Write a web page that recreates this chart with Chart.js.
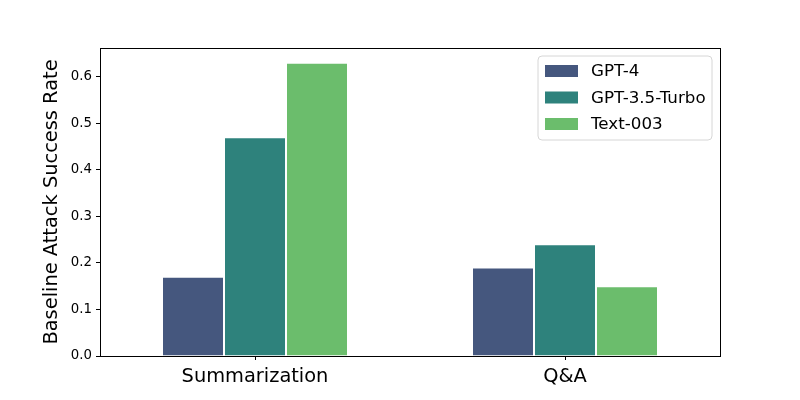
<!DOCTYPE html>
<html>
<head>
<meta charset="utf-8">
<script src="https://cdn.jsdelivr.net/npm/chart.js@4"></script>
<style>
  body { margin: 0; background: #fff; }
  #wrap { width: 800px; height: 400px; }
</style>
</head>
<body>
<div id="wrap"><canvas id="chBar"></canvas></div>
<script>
// data
var categories = ['Summarization', 'Q&A'];
var models = ['GPT-4', 'GPT-3.5-Turbo', 'Text-003'];
var gpt4 = [0.17, 0.19];
var gpt35 = [0.47, 0.24];
var text003 = [0.63, 0.15];

var colors = ['#45577e', '#2e827c', '#6bbd6c'];
var font = 'DejaVu Sans';

// box around the plot + legend like matplotlib
var framePlugin = {
  id: 'frame',
  afterDraw: function (chart) {
    var ctx = chart.ctx, a = chart.chartArea;
    ctx.save();
    ctx.strokeStyle = '#000';
    ctx.lineWidth = 1;
    ctx.strokeRect(a.left + 0.5, a.top + 0.5, a.right - a.left, a.bottom - a.top);

    // legend
    var x = 538, y = 56, w = 174, h = 84, r = 4;
    ctx.beginPath();
    ctx.moveTo(x + r, y);
    ctx.arcTo(x + w, y, x + w, y + h, r);
    ctx.arcTo(x + w, y + h, x, y + h, r);
    ctx.arcTo(x, y + h, x, y, r);
    ctx.arcTo(x, y, x + w, y, r);
    ctx.closePath();
    ctx.fillStyle = 'rgba(255,255,255,0.8)';
    ctx.fill();
    ctx.strokeStyle = '#d6d6d6';
    ctx.stroke();

    ctx.font = '16.7px "' + font + '"';
    ctx.textBaseline = 'middle';
    chart.data.datasets.forEach(function (ds, i) {
      var cy = 71 + i * 26.5;
      ctx.fillStyle = ds.backgroundColor;
      ctx.fillRect(545, cy - 6, 33, 12);
      ctx.fillStyle = '#000';
      ctx.fillText(ds.label, 591, cy + 1);
    });
    ctx.restore();
  }
};

new Chart(document.getElementById('chBar'), {
  type: 'bar',
  data: {
    labels: categories,
    datasets: [
      { label: models[0], data: gpt4, backgroundColor: colors[0] },
      { label: models[1], data: gpt35, backgroundColor: colors[1] },
      { label: models[2], data: text003, backgroundColor: colors[2] }
    ]
  },
  options: {
    responsive: true,
    maintainAspectRatio: false,
    animation: false,
    layout: { padding: { top: 48, right: 80, left: 0, bottom: 0 } },
    datasets: {
      bar: {
        categoryPercentage: 0.6,
        barPercentage: 1.0,
        borderColor: 'rgba(255,255,255,0.75)',
        borderWidth: 1
      }
    },
    plugins: {
      legend: { display: false },
      tooltip: { enabled: false }
    },
    scales: {
      x: {
        afterFit: function (s) { s.height = 44; },
        grid: { display: true, drawOnChartArea: false, offset: false, tickLength: 4, color: '#000' },
        border: { display: true, color: '#000' },
        ticks: { color: '#000', padding: 5, font: { family: font, size: 19.4 } }
      },
      y: {
        min: 0,
        max: 0.6615,
        afterFit: function (s) { s.width = 100; },
        grid: { display: true, drawOnChartArea: false, tickLength: 4, color: '#000' },
        border: { display: true, color: '#000' },
        ticks: {
          stepSize: 0.1,
          includeBounds: false,
          color: '#000',
          padding: 4,
          font: { family: font, size: 13.3 },
          callback: function (v) { return v.toFixed(1); }
        },
        title: {
          display: true,
          text: 'Baseline Attack Success Rate',
          color: '#000',
          font: { family: font, size: 19.4 },
          padding: { top: 40, bottom: 0 }
        }
      }
    }
  },
  plugins: [framePlugin]
});
</script>
</body>
</html>
